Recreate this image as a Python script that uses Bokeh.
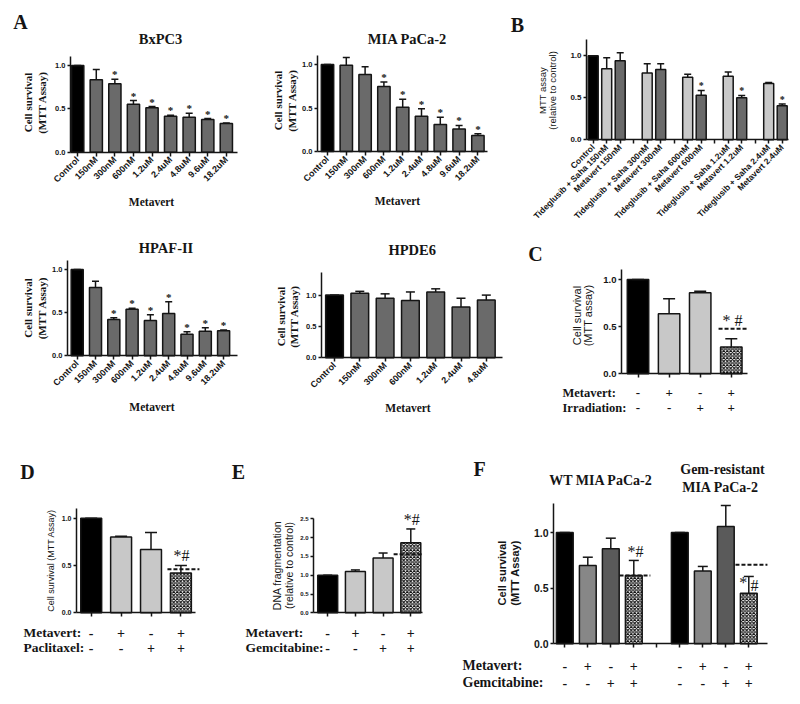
from math import pi
from bokeh.plotting import figure
from bokeh.models import (ColumnDataSource, Range1d, Whisker, TeeHead, LabelSet, Label,
                          FixedTicker, PrintfTickFormatter)
from bokeh.layouts import column, row
from bokeh.embed import file_html
from bokeh.resources import INLINE

SERIF = "Liberation Serif"
SANS = "Liberation Sans"
INK = "#151515"
GRAY = "#6a6a6a"
LIGHT = "#c8c8c8"

# ---------------- data ----------------
# Panel A
a_doses = ["Control", "150nM", "300nM", "600nM", "1.2uM", "2.4uM", "4.8uM", "9.6uM", "18.2uM"]
bxpc3_mean = [1.00, 0.835, 0.79, 0.554, 0.512, 0.415, 0.404, 0.377, 0.33]
bxpc3_upper = [1.00, 0.954, 0.842, 0.596, 0.527, 0.427, 0.45, 0.388, 0.338]
bxpc3_sig = ["", "", "*", "*", "*", "*", "*", "*", "*"]

mia_mean = [1.00, 0.99, 0.885, 0.747, 0.51, 0.406, 0.31, 0.26, 0.185]
mia_upper = [1.00, 1.08, 0.973, 0.80, 0.60, 0.49, 0.395, 0.30, 0.205]
mia_sig = ["", "", "", "*", "*", "*", "*", "*", "*"]

hpaf_mean = [1.00, 0.79, 0.42, 0.54, 0.41, 0.49, 0.25, 0.285, 0.29]
hpaf_upper = [1.00, 0.865, 0.44, 0.55, 0.475, 0.625, 0.28, 0.325, 0.30]
hpaf_sig = ["", "", "*", "*", "*", "*", "*", "*", "*"]

hpde6_doses = ["Control", "150nM", "300nM", "600nM", "1.2uM", "2.4uM", "4.8uM"]
hpde6_mean = [1.00, 1.03, 0.95, 0.915, 1.05, 0.81, 0.92]
hpde6_upper = [1.00, 1.06, 1.02, 1.05, 1.10, 0.95, 1.00]
hpde6_sig = ["", "", "", "", "", "", ""]

# Panel B (control, then pairs Tideglusib + Saha / Metavert per dose)
b_conditions = ["Control",
                "Tideglusib + Saha 150nM", "Metavert 150nM",
                "Tideglusib + Saha 300nM", "Metavert 300nM",
                "Tideglusib + Saha 600nM", "Metavert 600nM",
                "Tideglusib + Saha 1.2uM", "Metavert 1.2uM",
                "Tideglusib + Saha 2.4uM", "Metavert 2.4uM"]
b_mean = [1.00, 0.845, 0.94, 0.794, 0.837, 0.746, 0.53, 0.758, 0.50, 0.67, 0.405]
b_upper = [1.00, 0.976, 1.036, 0.905, 0.905, 0.78, 0.587, 0.806, 0.528, 0.683, 0.425]
b_sig = ["", "", "", "", "", "", "*", "", "*", "", "*"]

# Panel C
c_conditions = ["Control", "Metavert", "Irradiation", "Metavert + Irradiation"]
c_mean = [1.00, 0.636, 0.86, 0.283]
c_upper = [1.00, 0.795, 0.876, 0.371]
c_metavert = ["-", "+", "-", "+"]
c_irradiation = ["-", "-", "+", "+"]
c_threshold = 0.477
c_mark = "* #"

# Panel D
d_conditions = ["Control", "Metavert", "Paclitaxel", "Metavert + Paclitaxel"]
d_mean = [1.00, 0.80, 0.67, 0.42]
d_upper = [1.00, 0.81, 0.85, 0.50]
d_metavert = ["-", "+", "-", "+"]
d_paclitaxel = ["-", "-", "+", "+"]
d_threshold = 0.46
d_mark = "*#"

# Panel E
e_conditions = ["Control", "Metavert", "Gemcitabine", "Metavert + Gemcitabine"]
e_mean = [1.00, 1.10, 1.46, 1.86]
e_upper = [1.00, 1.14, 1.59, 2.23]
e_metavert = ["-", "+", "-", "+"]
e_gemcitabine = ["-", "-", "+", "+"]
e_threshold = 1.56
e_mark = "*#"

# Panel F
f_conditions = ["Control", "Metavert", "Gemcitabine", "Metavert + Gemcitabine"]
f_wt_mean = [1.00, 0.704, 0.853, 0.614]
f_wt_upper = [1.00, 0.778, 0.949, 0.749]
f_gr_mean = [1.00, 0.653, 1.054, 0.455]
f_gr_upper = [1.00, 0.695, 1.243, 0.605]
f_metavert = ["-", "+", "-", "+"]
f_gemcitabine = ["-", "-", "+", "+"]
f_wt_threshold = 0.614
f_gr_threshold = 0.71


# ---------------- helpers ----------------
def make_panel(X0, Y0, W, H, c0, sw, py0, ppu):
    """Figure whose whole canvas is the data frame; fx/fy turn page pixels into data."""
    def fx(px):
        return (px - c0) / sw

    def fy(py):
        return (py0 - py) / ppu

    p = figure(width=W, height=H,
               x_range=Range1d(fx(X0), fx(X0 + W)),
               y_range=Range1d(fy(Y0 + H), fy(Y0)),
               output_backend="svg", toolbar_location=None,
               min_border_left=0, min_border_right=0,
               min_border_top=0, min_border_bottom=0)
    p.outline_line_color = None
    p.xgrid.visible = False
    p.ygrid.visible = False
    return p, fx, fy


def setup_axes(p, fx, x_from, x_to, ymax, yticks, ysize, ystyle="bold",
               major=None, minor=None, labels=None, lsize="9px"):
    ya = p.yaxis[0]
    ya.fixed_location = fx(x_from)
    ya.bounds = (0, ymax)
    ya.ticker = FixedTicker(ticks=yticks)
    ya.formatter = PrintfTickFormatter(format="%.1f")
    ya.major_tick_in = 0
    ya.major_tick_out = 3
    ya.minor_tick_line_color = None
    ya.axis_line_width = 1.5
    ya.axis_line_color = INK
    ya.major_tick_line_width = 1.5
    ya.major_tick_line_color = INK
    ya.major_label_text_font = SANS
    ya.major_label_text_font_style = ystyle
    ya.major_label_text_font_size = ysize
    ya.major_label_text_color = INK
    ya.major_label_standoff = 2

    xa = p.xaxis[0]
    xa.fixed_location = 0
    xa.bounds = (fx(x_from), fx(x_to))
    xa.ticker = FixedTicker(ticks=major or [], minor_ticks=minor or [])
    xa.axis_line_width = 1.5
    xa.axis_line_color = INK
    xa.major_tick_in = 0
    xa.major_tick_out = 4
    xa.major_tick_line_width = 1.5
    xa.major_tick_line_color = INK
    xa.minor_tick_in = 0
    xa.minor_tick_out = 4
    xa.minor_tick_line_width = 1.5
    xa.minor_tick_line_color = INK
    if labels is not None:
        xa.major_label_overrides = {int(k): lab for k, lab in zip(major, labels)}
        xa.major_label_orientation = pi / 4
        xa.major_label_text_font = SANS
        xa.major_label_text_font_style = "bold"
        xa.major_label_text_font_size = lsize
        xa.major_label_text_color = INK
        xa.major_label_standoff = 2


def txt(p, x, y, text, size, font=SERIF, style="bold", angle=0.0, align="center"):
    p.add_layout(Label(x=x, y=y, text=text, angle=angle, text_font=font,
                       text_font_style=style, text_font_size=f"{size}px",
                       text_align=align, text_baseline="middle", text_color=INK))


def add_bars(p, xs, mean, upper, colors, width, cap, hatches=None, sig=None,
             star_size=11, star_offset=5):
    if hatches is None:
        hatches = [" "] * len(xs)
    if sig is None:
        sig = [""] * len(xs)
    src = ColumnDataSource(dict(x=xs, mean=mean, upper=upper, color=colors,
                                hatch=hatches, sig=sig))
    p.vbar(x="x", top="mean", width=width, source=src, fill_color="color",
           line_color=INK, line_width=1.5, hatch_pattern="hatch",
           hatch_color="#111111", hatch_scale=3.5, hatch_weight=1.1)
    p.add_layout(Whisker(source=src, base="x", lower="mean", upper="upper",
                         line_color=INK, line_width=1.5, level="glyph",
                         upper_head=TeeHead(size=cap, line_color=INK, line_width=1.5),
                         lower_head=None))
    if any(sig):
        p.add_layout(LabelSet(x="x", y="upper", text="sig", source=src, y_offset=star_offset,
                              text_align="center", text_baseline="middle",
                              text_font=SANS, text_font_style="bold",
                              text_font_size=f"{star_size}px", text_color=INK))


def sign_row(p, xs, signs, y, size=14):
    src = ColumnDataSource(dict(x=xs, t=signs))
    p.add_layout(LabelSet(x="x", y=y, text="t", source=src,
                          text_align="center", text_baseline="middle",
                          text_font=SERIF, text_font_style="bold",
                          text_font_size=f"{size}px", text_color=INK))


def dash(p, pos, y, left, right):
    p.segment(x0=pos + left, y0=y, x1=pos + right, y1=y, line_color=INK,
              line_width=2, line_dash="4 2")


# ---------------- Panel A ----------------
def dose_panel(X0, Y0, W, H, c0, sw, py0, ppu, ax_from, ax_to, doses, mean, upper, sig,
               ymax, title, title_xy, ylab_xs, ylab_y, xlab_xy, letter=None,
               width=0.66, cap=7):
    p, fx, fy = make_panel(X0, Y0, W, H, c0, sw, py0, ppu)
    xs = list(range(len(doses)))
    setup_axes(p, fx, ax_from, ax_to, ymax, [0, 0.5, 1.0], "7.5px",
               major=xs, labels=doses, lsize="9px")
    colors = ["black"] + [GRAY] * (len(doses) - 1)
    add_bars(p, xs, mean, upper, colors, width, cap, sig=sig)
    txt(p, fx(title_xy[0]), fy(title_xy[1]), title, 14.5)
    txt(p, fx(ylab_xs[0]), fy(ylab_y), "Cell survival", 11, angle=pi / 2)
    txt(p, fx(ylab_xs[1]), fy(ylab_y), "(MTT Assay)", 11, angle=pi / 2)
    txt(p, fx(xlab_xy[0]), fy(xlab_xy[1]), "Metavert", 11.5)
    if letter:
        txt(p, fx(letter[0]), fy(letter[1]), "A", 20)
    return p


a1 = dose_panel(0, 0, 250, 226, 77.2, 18.58, 151.7, 86.7, 70, 237, a_doses,
                bxpc3_mean, bxpc3_upper, bxpc3_sig, 1.1, "BxPC3", (160, 38.5),
                (27.5, 41), 102, (151, 201), letter=(20, 21.5))
a2 = dose_panel(250, 0, 250, 226, 327, 18.8, 151.0, 87.0, 317, 487, a_doses,
                mia_mean, mia_upper, mia_sig, 1.1, "MIA PaCa-2", (407, 38),
                (277.5, 291), 100, (397, 200))
a3 = dose_panel(0, 226, 250, 220, 76.7, 18.3, 355.3, 86.3, 67, 237, a_doses,
                hpaf_mean, hpaf_upper, hpaf_sig, 1.1, "HPAF-II", (165.5, 247.5),
                (27.5, 41), 307.5, (151.5, 406))
a4 = dose_panel(250, 226, 258, 220, 334, 25.3, 357.3, 62.7, 321, 502, hpde6_doses,
                hpde6_mean, hpde6_upper, hpde6_sig, 1.365, "HPDE6", (411.7, 249),
                (280, 293), 316, (407.5, 407), width=0.7, cap=9)

# ---------------- Panel B ----------------
b_pos = [0]
slot = 1
for k in range(1, len(b_conditions), 2):
    b_pos += [slot, slot + 1]
    slot += 3
b_gaps = [s for s in range(b_pos[-1] + 1) if s not in b_pos]

b, bfx, bfy = make_panel(500, 0, 296, 226, 592.7, 13.5, 139.3, 84.0)
setup_axes(b, bfx, 586, 788, 1.2, [0, 0.5, 1.0], "8px", major=b_pos, minor=b_gaps,
           labels=b_conditions, lsize="8.5px")
b_colors = ["black"] + [LIGHT, GRAY] * 5
add_bars(b, b_pos, b_mean, b_upper, b_colors, 0.74, 7, sig=b_sig, star_size=10)
txt(b, bfx(517), bfy(24.5), "B", 20)
txt(b, bfx(541.5), bfy(90), "MTT assay", 9.5, font=SANS, style="normal", angle=pi / 2)
txt(b, bfx(552), bfy(90), "(relative to control)", 9.5, font=SANS, style="normal",
    angle=pi / 2)

# ---------------- Panel C ----------------
c, cfx, cfy = make_panel(508, 226, 288, 220, 637.5, 31.1, 373.3, 94.3)
c_pos = list(range(len(c_conditions)))
setup_axes(c, cfx, 621, 747, 1.11, [0, 0.5, 1.0], "9.5px", minor=c_pos)
add_bars(c, c_pos, c_mean, c_upper, ["black", LIGHT, LIGHT, "white"], 0.69, 12,
         hatches=[" ", " ", " ", "x"])
dash(c, c_pos[3], c_threshold, -0.41, 0.55)
txt(c, c_pos[3] + 0.04, 0.565, c_mark, 16, style="normal")
txt(c, cfx(535), cfy(253), "C", 20)
txt(c, cfx(576), cfy(315), "Cell survival", 11, font=SANS, style="normal", angle=pi / 2)
txt(c, cfx(587), cfy(315), "(MTT assay)", 11, font=SANS, style="normal", angle=pi / 2)
txt(c, cfx(562), cfy(392), "Metavert:", 12.5, align="left")
txt(c, cfx(562), cfy(407), "Irradiation:", 12.5, align="left")
sign_row(c, c_pos, c_metavert, cfy(392), 13)
sign_row(c, c_pos, c_irradiation, cfy(407), 13)

# ---------------- Panel D ----------------
d, dfx, dfy = make_panel(0, 446, 230, 254, 90.7, 29.9, 612.3, 94.6)
d_pos = list(range(len(d_conditions)))
setup_axes(d, dfx, 76, 195, 1.1, [0, 0.5, 1.0], "7px", minor=d_pos)
add_bars(d, d_pos, d_mean, d_upper, ["black", LIGHT, LIGHT, "white"], 0.7, 12,
         hatches=[" ", " ", " ", "x"])
dash(d, d_pos[3], d_threshold, -0.45, 0.62)
txt(d, d_pos[3] + 0.02, 0.606, d_mark, 16, style="normal")
txt(d, dfx(27), dfy(471), "D", 20)
txt(d, dfx(50), dfy(560), "Cell survival (MTT Assay)", 9, font=SANS, style="normal",
    angle=pi / 2)
txt(d, dfx(23), dfy(632), "Metavert:", 13.5, align="left")
txt(d, dfx(23), dfy(647), "Paclitaxel:", 13.5, align="left")
sign_row(d, d_pos, d_metavert, dfy(632))
sign_row(d, d_pos, d_paclitaxel, dfy(647))

# ---------------- Panel E ----------------
e, efx, efy = make_panel(230, 446, 210, 254, 327.2, 27.7, 612.3, 37.6)
e_pos = list(range(len(e_conditions)))
setup_axes(e, efx, 313, 422, 2.51, [0, 0.5, 1.0, 1.5, 2.0, 2.5], "6px", minor=e_pos)
add_bars(e, e_pos, e_mean, e_upper, ["black", LIGHT, LIGHT, "white"], 0.72, 9,
         hatches=[" ", " ", " ", "x"])
dash(e, e_pos[3], e_threshold, -0.62, 0.39)
txt(e, e_pos[3] + 0.03, 2.48, e_mark, 16, style="normal")
txt(e, efx(238), efy(471), "E", 20)
txt(e, efx(276), efy(565), "DNA fragmentation", 10.5, font=SANS, style="normal",
    angle=pi / 2)
txt(e, efx(288), efy(565), "(relative to control)", 10.5, font=SANS, style="normal",
    angle=pi / 2)
txt(e, efx(245), efy(632), "Metavert:", 13.5, align="left")
txt(e, efx(245), efy(647), "Gemcitabine:", 13.5, align="left")
sign_row(e, e_pos, e_metavert, efy(632))
sign_row(e, e_pos, e_gemcitabine, efy(647))

# ---------------- Panel F ----------------
f, ffx, ffy = make_panel(440, 446, 356, 254, 564.3, 23.0, 643.3, 111.3)
n = len(f_conditions)
f_wt_pos = list(range(n))
f_gr_pos = [n + 1 + i for i in range(n)]
setup_axes(f, ffx, 553, 767, 1.258, [0, 0.5, 1.0], "10.5px",
           minor=list(range(2 * n + 1)))
f_colors = ["black", "#878787", "#5a5a5a", "white"]
f_hatch = [" ", " ", " ", "x"]
add_bars(f, f_wt_pos, f_wt_mean, f_wt_upper, f_colors, 0.73, 10, hatches=f_hatch)
add_bars(f, f_gr_pos, f_gr_mean, f_gr_upper, f_colors, 0.73, 10, hatches=f_hatch)
dash(f, f_wt_pos[3], f_wt_threshold, -0.62, 0.72)
dash(f, f_gr_pos[3], f_gr_threshold, -0.58, 0.81)
txt(f, f_wt_pos[3] + 0.07, 0.83, "*#", 16, style="normal")
txt(f, f_gr_pos[3] - 0.24, 0.55, "*", 16, style="normal")
txt(f, f_gr_pos[3] + 0.25, 0.52, "#", 16, style="normal")
txt(f, ffx(479), ffy(468), "F", 20)
txt(f, ffx(600.5), ffy(480), "WT MIA PaCa-2", 14)
txt(f, ffx(722), ffy(469), "Gem-resistant", 14)
txt(f, ffx(720), ffy(487), "MIA PaCa-2", 14)
txt(f, ffx(501), ffy(572.5), "Cell survival", 11, font=SANS, style="bold", angle=pi / 2)
txt(f, ffx(514), ffy(572.5), "(MTT Assay)", 11, font=SANS, style="bold", angle=pi / 2)
txt(f, ffx(462), ffy(665), "Metavert:", 14, align="left")
txt(f, ffx(462), ffy(682), "Gemcitabine:", 14, align="left")
sign_row(f, f_wt_pos + f_gr_pos, f_metavert + f_metavert, ffy(665))
sign_row(f, f_wt_pos + f_gr_pos, f_gemcitabine + f_gemcitabine, ffy(682))

layout = column(row(a1, a2, b), row(a3, a4, c), row(d, e, f))
open("out.html", "w").write(file_html(layout, INLINE))
